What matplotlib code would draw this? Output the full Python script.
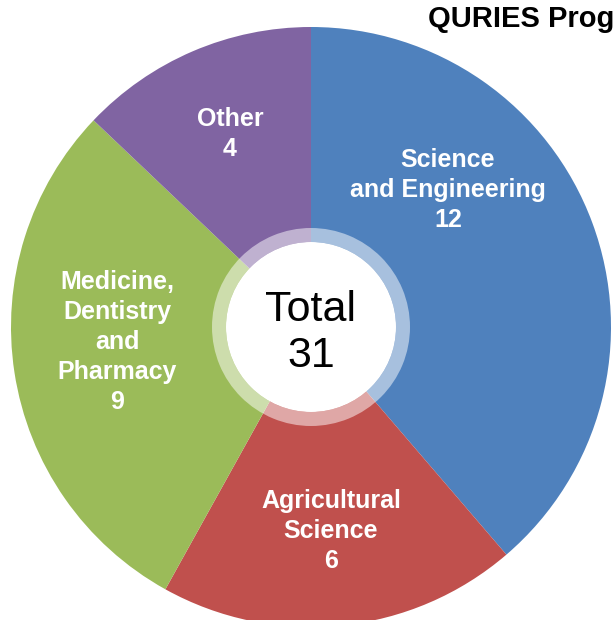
import matplotlib.pyplot as plt
from matplotlib.patches import Circle, Wedge

plt.rcParams['font.family'] = ['Liberation Sans', 'DejaVu Sans']

categories = ['Science\nand Engineering', 'Agricultural\nScience',
              'Medicine,\nDentistry\nand\nPharmacy', 'Other']
counts = [12, 6, 9, 4]
colors = ['#4F81BD', '#C0504D', '#9BBB59', '#8064A2']
# label centres, pixel offsets from the pie centre (x right, y up)
label_pos = [(137, 137), (20, -204), (-194, -15), (-81, 193)]

fig = plt.figure(figsize=(6.15, 6.2), dpi=100)
ax = fig.add_axes([0, 0, 1, 1])

cx, cy, R = 311, 293, 300
ax.pie(counts, colors=colors, startangle=90, counterclock=False,
       radius=R, center=(cx, cy), frame=True,
       wedgeprops=dict(linewidth=0))
ax.set_xlim(0, 615)
ax.set_ylim(0, 620)
ax.set_aspect('equal')
ax.axis('off')

# translucent ring and white hole
ax.add_patch(Wedge((cx, cy), 99, 0, 360, width=14, facecolor='white',
                   alpha=0.5, linewidth=0, zorder=3))
ax.add_patch(Circle((cx, cy), 85, facecolor='white', linewidth=0, zorder=4))

total = sum(counts)
ax.text(cx, cy - 6, f'Total\n{total}', ha='center', va='center', fontsize=31,
        linespacing=1.17, zorder=5)

for name, n, (dx, dy) in zip(categories, counts, label_pos):
    ax.text(cx + dx, cy + dy, f'{name}\n{n}', ha='center', va='center',
            color='white', fontsize=18, fontweight='bold', linespacing=1.32,
            zorder=5)

fig.text(428 / 615, 1 - 19 / 620, 'QURIES Programme', ha='left', va='center',
         fontsize=21, fontweight='bold')

fig.savefig('out.png', dpi=100)
